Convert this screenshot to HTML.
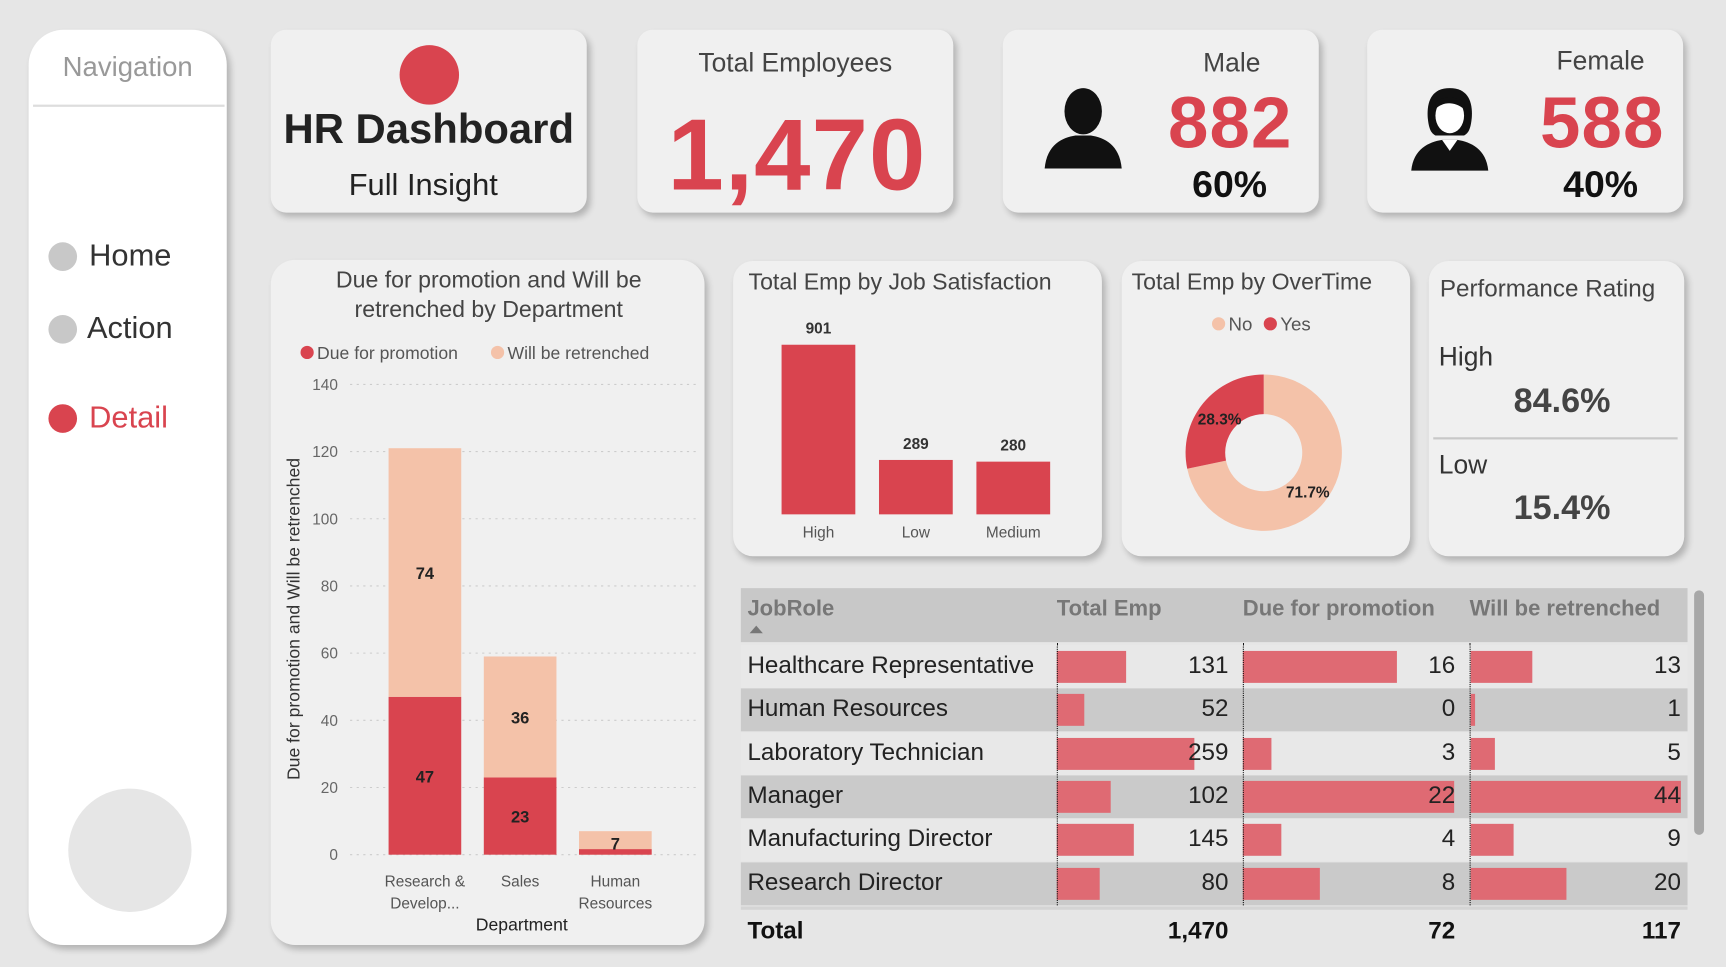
<!DOCTYPE html>
<html><head><meta charset="utf-8">
<style>
html,body{margin:0;padding:0;background:#e6e6e6;overflow:hidden}
body{width:1726px;height:967px}
#root{position:absolute;left:0;top:0;width:1568px;height:878px;transform-origin:0 0;transform:scale(1.1008,1.1014);font-family:"Liberation Sans","DejaVu Sans",sans-serif}
.card{position:absolute;background:#f0f0f0;border-radius:14px;box-shadow:3px 4px 6px rgba(0,0,0,0.22)}
.t{position:absolute;white-space:nowrap}
.red{color:#d9444f}
svg text{font-family:"Liberation Sans","DejaVu Sans",sans-serif}
</style></head><body>
<div id="root">

<div class="card" style="left:26px;top:27px;width:180px;height:831px;border-radius:32px;background:#fff">
  <div class="t" style="left:0;width:180px;text-align:center;top:20px;font-size:25px;color:#999">Navigation</div>
  <div style="position:absolute;left:4px;width:174px;top:68px;height:2px;background:#ddd"></div>
  <div style="position:absolute;left:18px;top:192px;width:160px;height:30px">
    <div style="position:absolute;left:0;top:1px;width:26px;height:26px;border-radius:50%;background:#c8c8c8"></div>
    <div class="t" style="left:37px;top:-3px;font-size:28px;color:#333">Home</div></div>
  <div style="position:absolute;left:18px;top:258px;width:160px;height:30px">
    <div style="position:absolute;left:0;top:1px;width:26px;height:26px;border-radius:50%;background:#c8c8c8"></div>
    <div class="t" style="left:35px;top:-3px;font-size:28px;color:#333">Action</div></div>
  <div style="position:absolute;left:18px;top:339px;width:160px;height:30px">
    <div style="position:absolute;left:0;top:1px;width:26px;height:26px;border-radius:50%;background:#d9444f"></div>
    <div class="t red" style="left:37px;top:-3px;font-size:28px">Detail</div></div>
  <div style="position:absolute;left:36px;top:689px;width:112px;height:112px;border-radius:50%;background:#e6e6e6"></div>
</div>

<div class="card" style="left:246px;top:27px;width:287px;height:166px">
  <div style="position:absolute;left:117px;top:14px;width:54px;height:54px;border-radius:50%;background:#d9444f"></div>
  <div class="t" style="left:0;width:287px;text-align:center;top:70px;font-size:38px;font-weight:bold;color:#222">HR Dashboard</div>
  <div class="t" style="left:0;width:277px;text-align:center;top:125px;font-size:28px;color:#222">Full Insight</div>
</div>

<div class="card" style="left:579px;top:27px;width:287px;height:166px">
  <div class="t" style="left:0;width:287px;text-align:center;top:17px;font-size:24px;color:#444">Total Employees</div>
  <div class="t red" style="left:0;width:290px;text-align:center;top:62px;font-size:92px;font-weight:bold;letter-spacing:1px">1,470</div>
</div>

<div class="card" style="left:911px;top:27px;width:287px;height:166px">
  <svg style="position:absolute;left:36px;top:52px" width="74" height="74" viewBox="0 0 74 74"><ellipse cx="37" cy="22" rx="17" ry="21" fill="#111"/><path d="M2 74 C4 52 18 46 30 44 L44 44 C56 46 70 52 72 74 Z" fill="#111"/></svg>
  <div class="t" style="left:182px;top:17px;font-size:24px;color:#444">Male</div>
  <div class="t red" style="left:150px;top:46px;font-size:66px;font-weight:bold;letter-spacing:1px">882</div>
  <div class="t" style="left:172px;top:122px;font-size:34px;font-weight:bold;color:#111">60%</div>
</div>

<div class="card" style="left:1242px;top:27px;width:287px;height:166px">
  <svg style="position:absolute;left:38px;top:50px" width="74" height="78" viewBox="0 0 74 78"><path d="M37 3 C20 3 16 16 17 30 C18 40 20 44 24 46 L50 46 C54 44 56 40 57 30 C58 16 54 3 37 3Z" fill="#111"/><ellipse cx="37" cy="28" rx="13" ry="16" fill="#fff"/><path d="M24 22 C30 16 40 14 50 22 L50 16 C44 10 30 10 24 16Z" fill="#111"/><path d="M2 78 C4 58 18 52 30 50 L44 50 C56 52 70 58 72 78 Z" fill="#111"/><path d="M30 50 L37 60 L44 50Z" fill="#fff"/></svg>
  <div class="t" style="left:172px;top:15px;font-size:24px;color:#444">Female</div>
  <div class="t red" style="left:157px;top:46px;font-size:66px;font-weight:bold;letter-spacing:1px">588</div>
  <div class="t" style="left:178px;top:122px;font-size:34px;font-weight:bold;color:#111">40%</div>
</div>

<div class="card" style="left:246px;top:236px;width:394px;height:622px;border-radius:22px">
  <svg id="deptSvg" width="394" height="622" style="position:absolute;left:0;top:0"></svg>
</div>

<div class="card" style="left:666px;top:237px;width:335px;height:268px;border-radius:18px">
  <svg id="jobSvg" width="335" height="268" style="position:absolute;left:0;top:0"></svg>
</div>

<div class="card" style="left:1019px;top:237px;width:262px;height:268px;border-radius:18px">
  <svg id="otSvg" width="262" height="268" style="position:absolute;left:0;top:0"></svg>
</div>

<div class="card" style="left:1298px;top:237px;width:232px;height:268px;border-radius:18px">
  <div class="t" style="left:10px;top:12px;font-size:22px;color:#444">Performance Rating</div>
  <div class="t" style="left:9px;top:74px;font-size:24px;color:#333">High</div>
  <div class="t" style="left:0;width:242px;text-align:center;top:109px;font-size:31px;font-weight:bold;color:#444">84.6%</div>
  <div style="position:absolute;left:4px;width:222px;top:160px;height:2px;background:#c8c8c8"></div>
  <div class="t" style="left:9px;top:172px;font-size:24px;color:#333">Low</div>
  <div class="t" style="left:0;width:242px;text-align:center;top:206px;font-size:31px;font-weight:bold;color:#444">15.4%</div>
</div>

<div id="table" style="position:absolute;left:673px;top:534px;width:860px;height:330px"></div>
<div style="position:absolute;left:1539px;top:536px;width:9px;height:222px;border-radius:5px;background:#a8a8a8"></div>

</div>
<script>
const NS='http://www.w3.org/2000/svg';
function mk(p,tag,attrs,txt){const e=document.createElementNS(NS,tag);for(const k in attrs)e.setAttribute(k,attrs[k]);if(txt!==undefined)e.textContent=txt;p.appendChild(e);return e;}
const RED='#d9444f',PEACH='#f4c2a9';

// Department chart data
const deptCategories=[['Research &','Develop...'],['Sales'],['Human','Resources']];
const deptPromotion=[47,23,0];
const deptRetrench=[74,36,7];
const deptTicks=[0,20,40,60,80,100,120,140];
(function(){
 const s=document.getElementById('deptSvg');
 const ox=246,oy=236;
 const y=v=>776-oy-v*(776-349)/140;
 const x=i=>386-ox+i*86.5;
 mk(s,'text',{x:198,y:25,'text-anchor':'middle','font-size':21,fill:'#444'},'Due for promotion and Will be');
 mk(s,'text',{x:198,y:52,'text-anchor':'middle','font-size':21,fill:'#444'},'retrenched by Department');
 mk(s,'circle',{cx:33,cy:84,r:6,fill:RED});
 mk(s,'text',{x:42,y:90,'font-size':16,fill:'#555'},'Due for promotion');
 mk(s,'circle',{cx:206,cy:84,r:6,fill:PEACH});
 mk(s,'text',{x:215,y:90,'font-size':16,fill:'#555'},'Will be retrenched');
 deptTicks.forEach(t=>{
  mk(s,'line',{x1:72,x2:386,y1:y(t),y2:y(t),stroke:'#ccc','stroke-dasharray':'2,4'});
  mk(s,'text',{x:61,y:y(t)+5,'text-anchor':'end','font-size':14,fill:'#666'},t);
 });
 const yt=mk(s,'text',{x:0,y:0,'text-anchor':'middle','font-size':16,fill:'#333',transform:'translate(26,326) rotate(-90)'},'Due for promotion and Will be retrenched');
 
 
 deptCategories.forEach((c,i)=>{
  const p=deptPromotion[i],r=deptRetrench[i],w=66,bx=x(i)-w/2;
  const b1=mk(s,'rect',{x:bx,y:y(p),width:w,height:y(0)-y(p),fill:RED});
  
  
  const b2=mk(s,'rect',{x:bx,y:y(p+r),width:w,height:y(p)-y(p+r),fill:PEACH});
  
  
  if(p>0)mk(s,'text',{x:x(i),y:(y(0)+y(p))/2+6,'text-anchor':'middle','font-size':15,'font-weight':'bold',fill:'#222'},p);
  else mk(s,'rect',{x:bx,y:y(0)-5,width:w,height:5,fill:RED});
  mk(s,'text',{x:x(i),y:(y(p)+y(p+r))/2+6,'text-anchor':'middle','font-size':15,'font-weight':'bold',fill:'#222'},r);
  c.forEach((l,j)=>mk(s,'text',{x:x(i),y:569+j*20,'text-anchor':'middle','font-size':14,fill:'#555'},l));
 });
 const xt=mk(s,'text',{x:228,y:609,'text-anchor':'middle','font-size':16,fill:'#222'},'Department');
 
 
})();

// Job satisfaction
const jobCategories=['High','Low','Medium'];
const jobValues=[901,289,280];
(function(){
 const s=document.getElementById('jobSvg');
 mk(s,'text',{x:14,y:26,'font-size':21,fill:'#444'},'Total Emp by Job Satisfaction');
 const base=467-237,sc=154/901;
 jobCategories.forEach((c,i)=>{
  const cx=743.5-666+i*88.5,h=jobValues[i]*sc;
  const r=mk(s,'rect',{x:cx-33.5,y:base-h,width:67,height:h,fill:RED});
  
  
  mk(s,'text',{x:cx,y:base-h-10,'text-anchor':'middle','font-size':14,'font-weight':'bold',fill:'#333'},jobValues[i]);
  mk(s,'text',{x:cx,y:251,'text-anchor':'middle','font-size':14,fill:'#555'},c);
 });
})();

// Overtime donut
const otLabels=['No','Yes'];
const otValues=[71.7,28.3];
(function(){
 const s=document.getElementById('otSvg');
 mk(s,'text',{x:9,y:26,'font-size':21,fill:'#444'},'Total Emp by OverTime');
 mk(s,'circle',{cx:88,cy:57,r:6,fill:PEACH});mk(s,'text',{x:97,y:63,'font-size':17,fill:'#555'},'No');
 mk(s,'circle',{cx:135,cy:57,r:6,fill:RED});mk(s,'text',{x:144,y:63,'font-size':17,fill:'#555'},'Yes');
 const cx=129,cy=174,R=71,r=35,tot=otValues[0]+otValues[1];
 const pt=(a,rad)=>[cx+rad*Math.sin(a),cy-rad*Math.cos(a)];
 let a0=0;const cols=[PEACH,RED];
 const offs=[[-5,4],[5,11]];
 otValues.forEach((v,i)=>{
  const a1=a0+v/tot*2*Math.PI,lg=(a1-a0)>Math.PI?1:0;
  const [x0,y0]=pt(a0,R),[x1,y1]=pt(a1,R),[x2,y2]=pt(a1,r),[x3,y3]=pt(a0,r);
  const p=mk(s,'path',{d:`M${x0} ${y0}A${R} ${R} 0 ${lg} 1 ${x1} ${y1}L${x2} ${y2}A${r} ${r} 0 ${lg} 0 ${x3} ${y3}Z`,fill:cols[i]});
  
  
  const am=(a0+a1)/2,[lx,ly]=pt(am,58);
  mk(s,'text',{x:lx+offs[i][0],y:ly+offs[i][1],'text-anchor':'middle','font-size':14,'font-weight':'bold',fill:'#222'},v.toFixed(1)+'%');
  a0=a1;
 });
})();

// Table
const roles=['Healthcare Representative','Human Resources','Laboratory Technician','Manager','Manufacturing Director','Research Director'];
const totalEmp=[131,52,259,102,145,80];
const duePromotion=[16,0,3,22,4,8];
const willRetrench=[13,1,5,44,9,20];
const totals=['1,470','72','117'];
(function(){
 const t=document.getElementById('table');
 function div(css,txt){const d=document.createElement('div');d.style.cssText='position:absolute;white-space:nowrap;'+css;if(txt!==undefined)d.textContent=txt;t.appendChild(d);return d;}
 const hd=div('left:0;top:0;width:860px;height:49px;background:#c8c8c8');
 
 
 const hs='top:8px;font-size:20px;font-weight:bold;color:#777;';
 div(hs+'left:6px','JobRole');div(hs+'left:287px','Total Emp');div(hs+'left:456px','Due for promotion');div(hs+'left:662px','Will be retrenched');
 div('left:8px;top:34px;width:0;height:0;border-left:6px solid transparent;border-right:6px solid transparent;border-bottom:7px solid #777');
 const cols=[{x0:287,xe:443,vals:totalEmp,max:259,w:125},{x0:456,xe:649,vals:duePromotion,max:22,w:192},{x0:663,xe:854,vals:willRetrench,max:44,w:191}];
 roles.forEach((r,i)=>{
  const top=52+i*39.3;
  const row=div(`left:0;top:${top}px;width:860px;height:39px;background:${i%2?'#cacaca':'#e8e8e8'}`);
  
  
  div(`left:6px;top:${top+5}px;font-size:22px;color:#222`,r);
  cols.forEach(c=>{
   const v=c.vals[i],w=v/c.max*c.w;
   const b=div(`left:${c.x0}px;top:${top+5}px;width:${w}px;height:29px;background:#df6a73`);
   
   
   div(`left:${c.xe-100}px;width:100px;text-align:right;top:${top+5}px;font-size:22px;color:#222`,v);
  });
 });
 [287,456,662].forEach(x=>div(`left:${x}px;top:50px;height:240px;border-left:1px dotted #111`));
 div('left:0;top:289px;width:860px;height:3px;background:#d4d4d4');
 const ts='top:298px;font-size:22px;font-weight:bold;color:#111;';
 div(ts+'left:6px','Total');
 div(ts+'left:343px;width:100px;text-align:right',totals[0]);
 div(ts+'left:549px;width:100px;text-align:right',totals[1]);
 div(ts+'left:754px;width:100px;text-align:right',totals[2]);
})();
</script>
</body></html>
